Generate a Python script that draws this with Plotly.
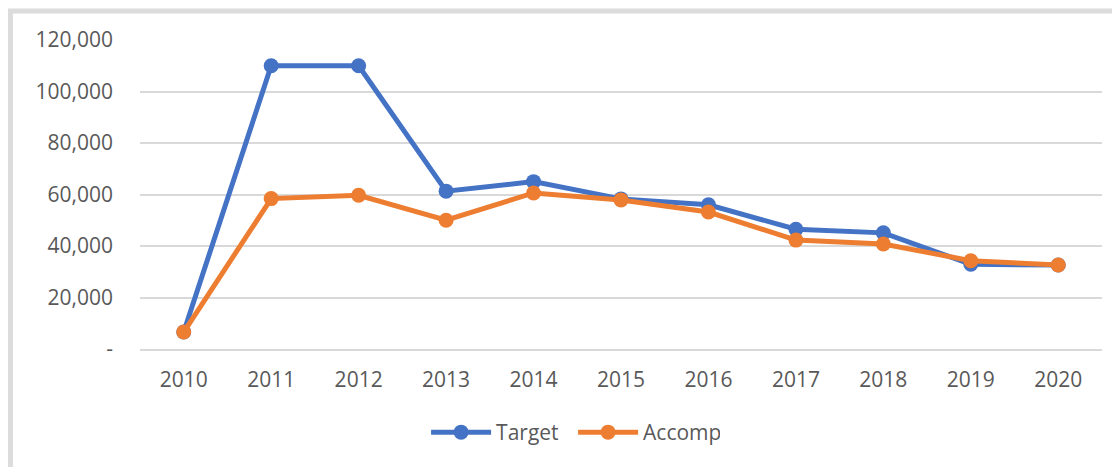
import plotly.graph_objects as go

years = ["2010", "2011", "2012", "2013", "2014", "2015", "2016", "2017", "2018", "2019", "2020"]
target = [6600, 110000, 110000, 61300, 65000, 58300, 56000, 46500, 45100, 32900, 32600]
accomp = [6600, 58400, 59700, 50000, 60600, 57900, 53200, 42300, 40800, 34300, 32600]
y_ticks = [0, 20000, 40000, 60000, 80000, 100000, 120000]
y_ticktext = ["-", "20,000", "40,000", "60,000", "80,000", "100,000", "120,000"]

BLUE = "#4472C4"
ORANGE = "#ED7D31"
TXT = "#595959"
FONT = "Open Sans"

fig = go.Figure()
fig.add_trace(go.Scatter(x=years, y=target, name="Target", mode="lines+markers",
                         line=dict(color=BLUE, width=5), marker=dict(color=BLUE, size=15)))
fig.add_trace(go.Scatter(x=years, y=accomp, name="Accomp", mode="lines+markers",
                         line=dict(color=ORANGE, width=5), marker=dict(color=ORANGE, size=15)))

# page has an 8px body margin; figure coordinates below are page coords minus 8
OFF = 8
W, H = 1120 - OFF, 467 - OFF
ml, mr, mt, mb = 140 - OFF, W - (1101.7 - OFF), 39.5 - OFF, H - (349.3 - OFF)
pw, ph = W - ml - mr, H - mt - mb

def px_x(x):
    return (x - OFF - ml) / pw

def px_y(y):
    return (H - mb - (y - OFF)) / ph

fig.update_layout(
    width=W, height=H,
    margin=dict(l=ml, r=mr, t=mt, b=mb, autoexpand=False),
    paper_bgcolor="white", plot_bgcolor="white",
    font=dict(family=FONT, size=21, color=TXT),
    showlegend=True,
    legend=dict(orientation="h", x=px_x(426), xanchor="left", y=px_y(433), yanchor="middle",
                font=dict(family=FONT, size=21, color=TXT), itemwidth=60, entrywidth=72,
                bgcolor="rgba(0,0,0,0)"),
    xaxis=dict(type="category", range=[-0.5, 10.5], showgrid=False, showline=True,
               linecolor="#D9D9D9", linewidth=1.5, ticks="", zeroline=False,
               ticklabelstandoff=11,
               tickfont=dict(family=FONT, size=21, color=TXT)),
    yaxis=dict(range=[0, 120000], tickvals=y_ticks, ticktext=y_ticktext, showgrid=True,
               gridcolor="#D9D9D9", gridwidth=1.5, zeroline=False, showline=False, ticks="",
               ticklabelstandoff=26,
               tickfont=dict(family=FONT, size=21, color=TXT)),
    shapes=[
        dict(type="rect", xref="paper", yref="paper", layer="below",
             x0=px_x(10.5), x1=px_x(1135), y0=px_y(480), y1=px_y(10.5),
             line=dict(color="#DCDCDC", width=5), fillcolor="rgba(0,0,0,0)"),
    ],
)

fig.write_html("out.html")
